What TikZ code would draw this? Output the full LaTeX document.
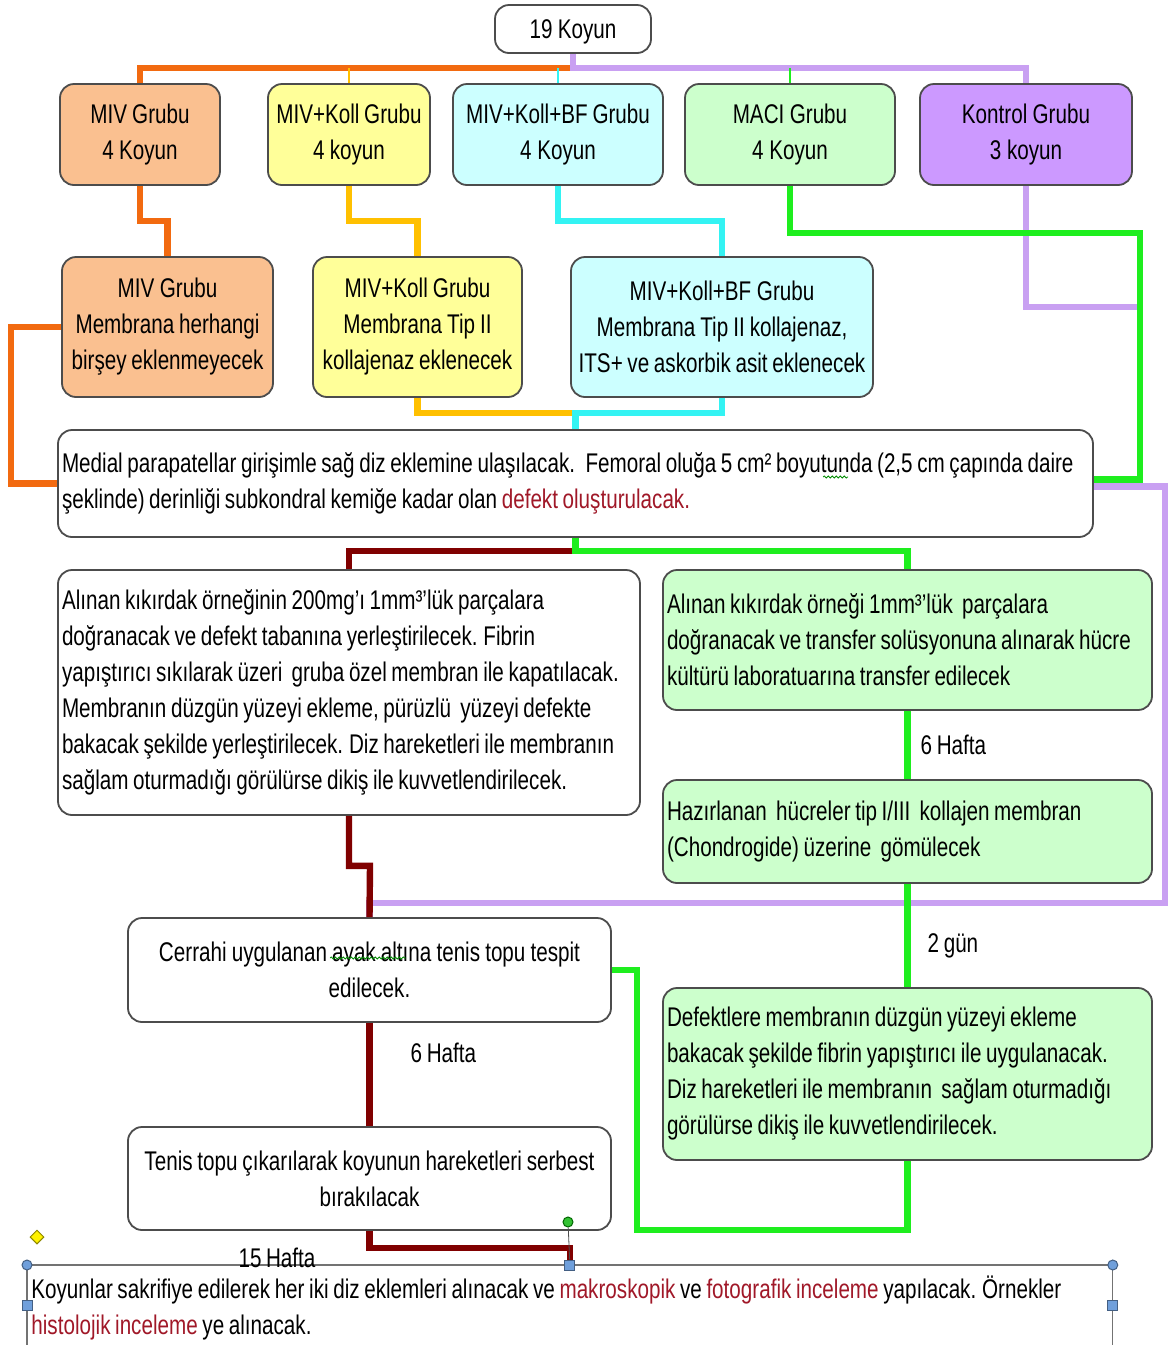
\documentclass[tikz,border=0pt]{standalone}
\usepackage{fontspec}
\setmainfont{Liberation Sans}[FakeStretch=0.765]
\usetikzlibrary{positioning,calc,shapes.geometric,decorations.pathmorphing}

\definecolor{fmiv}{HTML}{FAC090}
\definecolor{fkol}{HTML}{FFFF99}
\definecolor{fbf}{HTML}{CCFFFF}
\definecolor{fmaci}{HTML}{CCFFCC}
\definecolor{fkon}{HTML}{CC99FF}
\definecolor{lorange}{HTML}{F26A10}
\definecolor{lyellow}{HTML}{FFC000}
\definecolor{lcyan}{HTML}{33F3F3}
\definecolor{lgreen}{HTML}{1EEE1E}
\definecolor{lpurple}{HTML}{C9A0F2}
\definecolor{ldred}{HTML}{800000}
\definecolor{tdred}{HTML}{A01828}
\definecolor{hblue}{HTML}{6F9FDB}

\newcommand\tightsp{\spaceskip=2.3pt plus 0.5pt minus 0.3pt\relax\xspaceskip=2.9pt\relax}
\newcommand\dsp{\hskip 2.3pt\relax}

\begin{document}
\begin{tikzpicture}[x=0.5pt, y=-0.5pt,
    font=\fontsize{13.5pt}{18pt}\selectfont,
    execute at begin node=\tightsp,
    box/.style={draw=black!70, line width=0.9pt, rounded corners=7pt, inner xsep=2pt, inner ysep=0pt},
    cbox/.style={box, align=center},
    lbox/.style={box, align=left},
    conn/.style={line width=3.2pt},
    stub/.style={line width=1pt},
    lbl/.style={inner sep=1pt, text=black},
    handle/.style={draw=hblue!60!black, fill=hblue, line width=0.5pt, inner sep=0pt, minimum size=5pt}]
\useasboundingbox (0,0) rectangle (1170,1345);

\node[cbox, fill=white, text width=74pt, minimum height=24pt, text depth=0pt] (root) at (573,29) {19 Koyun};

\node[cbox, fill=fmiv, text width=76pt, minimum height=50.5pt] (miv1) at (140,134.5) {MIV Grubu\\4 Koyun};
\node[cbox, fill=fkol, text width=77pt, minimum height=50.5pt] (kol1) at (349,134.5) {MIV+Koll Grubu\\4 koyun};
\node[cbox, fill=fbf, text width=101pt, minimum height=50.5pt] (bf1) at (558,134.5) {MIV+Koll+BF Grubu\\4 Koyun};
\node[cbox, fill=fmaci, text width=101pt, minimum height=50.5pt] (maci1) at (790,134.5) {MACI Grubu\\4 Koyun};
\node[cbox, fill=fkon, text width=102pt, minimum height=50.5pt] (kon1) at (1026,134.5) {Kontrol Grubu\\3 koyun};

\node[cbox, fill=fmiv, text width=101.5pt, minimum height=70pt] (miv2) at (167.5,327) {MIV Grubu\\Membrana herhangi\\birşey eklenmeyecek};
\node[cbox, fill=fkol, text width=100.5pt, minimum height=70pt] (kol2) at (417.5,327) {MIV+Koll Grubu\\Membrana Tip II\\kollajenaz eklenecek};
\node[cbox, fill=fbf, text width=147pt, minimum height=70pt] (bf2) at (722,327) {MIV+Koll+BF Grubu\\Membrana Tip II kollajenaz,\\ITS+ ve askorbik asit eklenecek};

\node[lbox, fill=white, text width=513.5pt, minimum height=53.5pt] (med) at (575.5,483.5)
    {Medial parapatellar girişimle sağ diz eklemine ulaşılacak. \dsp Femoral oluğa 5 cm² boyutunda (2,5 cm çapında daire\\
     şeklinde) derinliği subkondral kemiğe kadar olan \textcolor{tdred}{defekt oluşturulacak.}};

\node[lbox, fill=white, text width=287pt, minimum height=122.5pt] (lft) at (349,692.5)
    {Alınan kıkırdak örneğinin 200mg’ı 1mm³’lük parçalara\\
     doğranacak ve defekt tabanına yerleştirilecek. Fibrin\\
     yapıştırıcı sıkılarak üzeri \dsp gruba özel membran ile kapatılacak.\\
     Membranın düzgün yüzeyi ekleme, pürüzlü \dsp yüzeyi defekte\\
     bakacak şekilde yerleştirilecek. Diz hareketleri ile membranın\\
     sağlam oturmadığı görülürse dikiş ile kuvvetlendirilecek.};

\node[lbox, fill=fmaci, text width=240.5pt, minimum height=70pt] (gb1) at (907.5,640)
    {Alınan kıkırdak örneği 1mm³’lük \dsp parçalara\\
     doğranacak ve transfer solüsyonuna alınarak hücre\\
     kültürü laboratuarına transfer edilecek};
\node[lbox, fill=fmaci, text width=240.5pt, minimum height=51.5pt] (gb2) at (907.5,831.5)
    {Hazırlanan \dsp hücreler tip I/III \dsp kollajen membran\\
     (Chondrogide) üzerine \dsp gömülecek};
\node[lbox, fill=fmaci, text width=240.5pt, minimum height=86pt] (gb3) at (907.5,1074)
    {Defektlere membranın düzgün yüzeyi ekleme\\
     bakacak şekilde fibrin yapıştırıcı ile uygulanacak.\\
     Diz hareketleri ile membranın \dsp sağlam oturmadığı\\
     görülürse dikiş ile kuvvetlendirilecek.};

\node[cbox, fill=white, text width=237.5pt, minimum height=52pt] (cer) at (369.5,970)
    {Cerrahi uygulanan ayak altına tenis topu tespit\\edilecek.};
\node[cbox, fill=white, text width=237.5pt, minimum height=51.5pt] (ten) at (369.5,1178.5)
    {Tenis topu çıkarılarak koyunun hareketleri serbest\\bırakılacak};

\node[align=left, text width=538.5pt, inner xsep=2pt, inner ysep=5pt, anchor=north west] (bot) at (27,1265)
    {Koyunlar sakrifiye edilerek her iki diz eklemleri alınacak ve \textcolor{tdred}{makroskopik} ve \textcolor{tdred}{fotografik inceleme} yapılacak. Örnekler\\
     \textcolor{tdred}{histolojik inceleme} ye alınacak.};
\draw[black!55, line width=0.6pt] ($(bot.north west)+(0,90)$) -- (bot.north west);
\draw[black!55, line width=0.6pt] ($(bot.north east)+(0,90)$) -- (bot.north east);
\draw[black!55, line width=1.1pt] (bot.north west) -- (bot.north east);

\coordinate (bus) at (573,68);
\coordinate (gturn) at (1140,233);
\coordinate (pturn) at (1140,307);
\coordinate (pcorner) at (1165,903);
\coordinate (jn) at (575.5,413);

\draw[conn, lorange] (bus) -| (miv1.north);
\draw[conn, lpurple] (root.south) -- (bus) -| (kon1.north);
\draw[stub, lyellow] (kol1.north) -- (kol1.north |- bus);
\draw[stub, lcyan] (bf1.north) -- (bf1.north |- bus);
\draw[stub, lgreen] (maci1.north) -- (maci1.north |- bus);

\draw[conn, lorange] (miv1.south) |- ($(miv1.south)!0.5!(miv2.north)$) -| (miv2.north);
\draw[conn, lyellow] (kol1.south) |- ($(kol1.south)!0.5!(kol2.north)$) -| (kol2.north);
\draw[conn, lcyan] (bf1.south) |- ($(bf1.south)!0.5!(bf2.north)$) -| (bf2.north);
\draw[conn, lpurple] (kon1.south) |- (pturn) |- ($(med.east)+(0,3)$);
\draw[conn, lgreen] (maci1.south) |- (gturn) |- ($(med.east)+(0,-4)$);

\draw[conn, lorange] (miv2.west) -- ++(-50,0) |- (med.west);
\draw[conn, lyellow] (kol2.south) |- (jn);
\draw[conn, lcyan] (bf2.south) |- (jn) -- (med.north);

\draw[conn, lpurple] ($(med.east)+(0,3)$) -| (pcorner) -| (cer.north);
\draw[conn, ldred] (med.south) -- ++(0,13) -| (lft.north);
\draw[conn, lgreen] (med.south) -- ++(0,13) -| (gb1.north);

\draw[conn, lgreen] (gb1.south) -- node[lbl, right=4pt] (h6b) {6 Hafta} (gb2.north);
\draw[conn, lgreen] (gb2.south) -- node[lbl, right=7.5pt, pos=0.6] (g2) {2 gün} (gb3.north);
\draw[conn, lgreen] (gb3.south) |- (637,1230) |- (cer.east);

\draw[conn, ldred] (lft.south) |- ++(21,50) -- (cer.north);
\draw[conn, ldred] (cer.south) -- node[lbl, right=18pt, pos=0.29] (h6a) {6 Hafta} (ten.north);
\draw[conn, ldred] (ten.south) -- ++(0,17) -| (bot.north);

\node[lbl] (h15) at (277,1258) {15 Hafta};

\draw[decorate, decoration={snake, amplitude=0.5pt, segment length=2pt}, green!55!black, line width=0.4pt] (823,477) -- (848,477);
\draw[decorate, decoration={snake, amplitude=0.5pt, segment length=2pt}, green!55!black, line width=0.4pt] (330,958) -- (406,958);

\node[handle, circle] (hnw) at (bot.north west) {};
\node[handle, circle] (hne) at (bot.north east) {};
\node[handle] (hn) at (bot.north) {};
\node[handle] (hw) at ($(bot.north west)+(0,40)$) {};
\node[handle] (he) at ($(bot.north east)+(0,40)$) {};
\node[handle, circle, draw=green!40!black, fill=green!70!black!80] (hrot) at (568,1222) {};
\draw[black!70, line width=0.4pt] (hrot) -- (hn);
\node[diamond, draw=olive, fill=yellow, inner sep=0pt, minimum size=7pt, line width=0.5pt] (hadj) at (37,1237) {};
\end{tikzpicture}
\end{document}
